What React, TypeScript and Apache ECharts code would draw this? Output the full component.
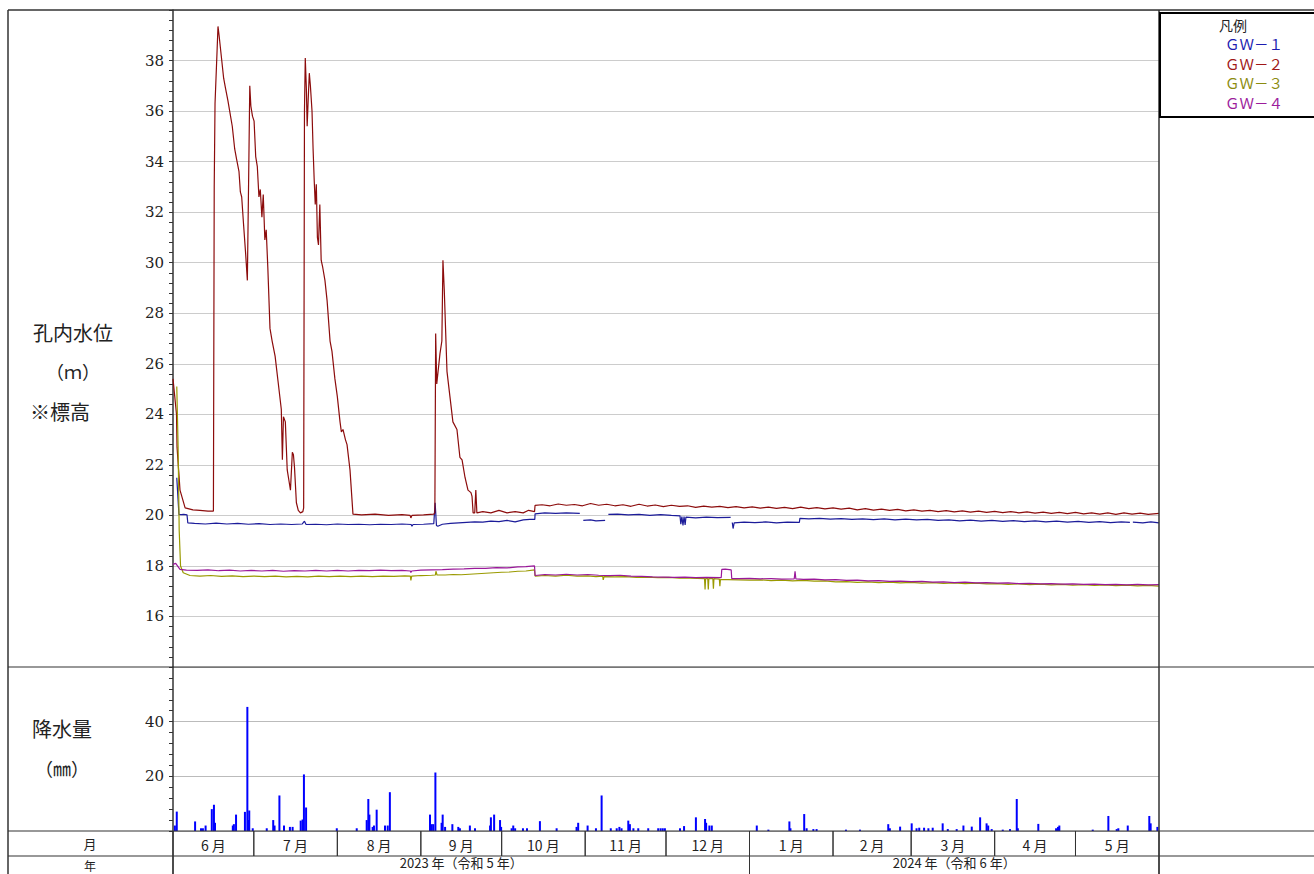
import React, { useEffect, useRef } from 'react';
import * as echarts from 'echarts';

// x values are days counted from 2023-06-01 (0) to 2024-06-01 (366)
const TOTAL_DAYS = 366;
const monthLabels = ['6 月', '7 月', '8 月', '9 月', '10 月', '11 月', '12 月', '1 月', '2 月', '3 月', '4 月', '5 月'];
const monthStartDays = [0, 30, 61, 92, 122, 153, 183, 214, 245, 274, 305, 335, 366];
const yearLabels = ['2023 年（令和 5 年）', '2024 年（令和 6 年）'];
const yearStartDays = [0, 214, 366];

const seriesNames = ['ＧＷ－１', 'ＧＷ－２', 'ＧＷ－３', 'ＧＷ－４'];
const lineColors = ['#1c1c9a', '#8c0c0c', '#9a9a00', '#9a189a'];
const textColors = ['#1c1cb0', '#a01818', '#8c8c10', '#9c1c9c'];

type P = [number, number | string];

const gw1: P[] = [
  [1.4, 21.49], [2.2, 20.04], [3, 20.03], [4, 20.04], [5.2, 20.02], [5.5, 19.7], [8, 19.68], [12, 19.66], [16, 19.69],
  [20, 19.66], [24, 19.68], [28, 19.65], [32, 19.67], [36, 19.64], [40, 19.66], [44, 19.64], [48, 19.66], [48.8, 19.77],
  [49.4, 19.64], [53, 19.65], [57, 19.63], [61, 19.66], [65, 19.64], [69, 19.65], [73, 19.63], [77, 19.65], [81, 19.64],
  [85, 19.66], [88.4, 19.64], [88.7, 19.57], [89.1, 19.64], [93, 19.65], [96.8, 19.67], [97.3, 20.5], [97.8, 19.6],
  [98.3, 19.57], [100, 19.65], [103, 19.68], [106, 19.7], [109, 19.72], [112, 19.74], [115, 19.73], [118, 19.77],
  [121, 19.75], [124, 19.8], [127, 19.74], [130, 19.82], [132.5, 19.84], [134.3, 19.84], [134.4, 20.06], [138, 20.1],
  [142, 20.08], [146, 20.1], [151, 20.08], [151.6, '-'], [152.3, 19.8], [155, 19.82], [157, 19.78], [160.4, 19.8],
  [161, '-'], [161.6, 20.04], [165, 20.05], [169, 20.02], [173, 20.04], [177, 20.0], [181, 20.03], [185, 20.0],
  [188.2, 19.98], [188.5, 19.65], [188.9, 19.95], [189.3, 19.6], [189.7, 19.95], [190.1, 19.62], [190.4, 19.93],
  [194, 19.9], [198, 19.93], [202, 19.91], [207, 19.92], [207.3, '-'], [207.6, 19.72], [207.9, 19.48], [208.3, 19.7],
  [212, 19.73], [216, 19.71], [220, 19.74], [224, 19.7], [228, 19.73], [232.5, 19.72], [232.7, 19.88], [236, 19.86],
  [240, 19.88], [244, 19.85], [248, 19.87], [252, 19.84], [256, 19.86], [260, 19.83], [264, 19.86], [268, 19.82],
  [272, 19.85], [276, 19.82], [280, 19.84], [284, 19.8], [288, 19.82], [292, 19.78], [296, 19.81], [300, 19.77],
  [304, 19.8], [308, 19.76], [312, 19.79], [316, 19.75], [320, 19.78], [324, 19.74], [328, 19.77], [332, 19.73],
  [336, 19.76], [340, 19.72], [344, 19.75], [348, 19.71], [352, 19.74], [355.2, 19.72], [355.7, '-'], [356.3, 19.73],
  [360, 19.7], [363, 19.74], [366, 19.7],
];

const gw2: P[] = [
  [0, 25.4], [1.3, 24.0], [1.5, 22.7], [2.6, 21.0], [4.5, 20.3], [7.4, 20.22], [10, 20.2], [13, 20.17], [15.0, 20.17],
  [15.3, 33.0], [15.6, 36.3], [16.4, 38.5], [16.7, 39.35], [17.1, 39.0], [18.0, 38.1], [18.8, 37.3], [19.5, 36.9],
  [20.4, 36.4], [21.2, 35.9], [22.0, 35.4], [22.9, 34.5], [23.6, 34.1], [24.5, 33.6], [25.0, 32.8], [25.5, 32.6],
  [26.2, 31.5], [27.0, 30.3], [27.6, 29.3], [28.1, 33.5], [28.5, 37.0], [28.9, 36.2], [29.5, 35.8], [30.1, 35.6],
  [30.7, 34.2], [31.3, 33.8], [31.9, 32.6], [32.4, 32.9], [33.0, 31.8], [33.5, 32.7], [34.1, 30.9], [34.6, 31.3],
  [35.2, 29.8], [36.0, 27.4], [36.8, 26.9], [37.9, 26.3], [39.0, 25.3], [40.2, 24.2], [40.6, 22.2], [41.0, 23.9],
  [41.7, 23.7], [42.4, 21.8], [43.0, 21.4], [43.6, 21.0], [44.3, 22.5], [44.7, 22.4], [45.1, 21.9], [45.8, 20.5],
  [46.5, 20.2], [47.3, 20.1], [48.2, 20.15], [48.5, 20.3], [48.8, 36.0], [49.1, 38.1], [49.5, 36.9], [49.8, 35.4],
  [50.2, 36.5], [50.6, 37.5], [51.0, 37.0], [51.6, 36.0], [52.0, 34.5], [52.4, 33.3], [52.8, 32.3], [53.2, 33.1],
  [53.6, 31.0], [54.0, 30.7], [54.5, 32.3], [55.0, 30.1], [55.6, 29.8], [56.4, 29.3], [57.2, 28.5], [58.3, 26.9],
  [59.0, 26.5], [60.1, 25.4], [61.0, 24.7], [62.0, 23.7], [62.5, 23.3], [63.1, 23.4], [64.0, 23.0], [64.6, 22.8],
  [65.7, 21.8], [66.8, 20.05], [70, 20.02], [75, 20.05], [80, 20.0], [85, 20.03], [88.0, 20.0], [88.3, 19.9],
  [88.7, 20.0], [93, 20.02], [96.8, 20.05], [97.2, 20.1], [97.5, 27.2], [97.9, 25.2], [99.1, 26.4], [99.8, 26.9],
  [100.2, 30.1], [100.7, 28.9], [101.7, 25.7], [102.8, 24.7], [103.9, 23.7], [105.4, 23.4], [106.5, 22.3],
  [107.3, 22.2], [108.4, 21.5], [109.5, 21.0], [110.6, 20.9], [111.0, 20.75], [111.4, 20.1], [112.0, 20.1],
  [112.4, 21.0], [112.8, 20.1], [115, 20.15], [118, 20.1], [121, 20.2], [124, 20.1], [127, 20.15], [130, 20.1],
  [132, 20.2], [134.2, 20.15], [134.4, 20.4], [137, 20.42], [140, 20.38], [143, 20.45], [146, 20.4], [149, 20.43],
  [152, 20.38], [155, 20.47], [158, 20.4], [161, 20.44], [164, 20.38], [167, 20.42], [170, 20.36], [173, 20.44],
  [176, 20.37], [179, 20.41], [182, 20.35], [185, 20.4], [188, 20.36], [191, 20.38], [194, 20.32], [197, 20.37],
  [200, 20.33], [203, 20.36], [206, 20.31], [209, 20.35], [212, 20.3], [215, 20.34], [218, 20.29], [221, 20.33],
  [224, 20.28], [227, 20.32], [230, 20.27], [233, 20.33], [236, 20.27], [239, 20.31], [242, 20.26], [245, 20.3],
  [248, 20.25], [251, 20.29], [254, 20.22], [257, 20.27], [260, 20.21], [263, 20.25], [266, 20.2], [269, 20.24],
  [272, 20.18], [275, 20.22], [278, 20.17], [281, 20.2], [284, 20.15], [287, 20.19], [290, 20.14], [293, 20.18],
  [296, 20.13], [299, 20.17], [302, 20.12], [305, 20.16], [308, 20.11], [311, 20.15], [314, 20.1], [317, 20.14],
  [320, 20.09], [323, 20.13], [326, 20.08], [329, 20.12], [332, 20.07], [335, 20.12], [338, 20.06], [341, 20.1],
  [344, 20.05], [347, 20.1], [350, 20.04], [353, 20.1], [356, 20.05], [359, 20.09], [362, 20.04], [366, 20.08],
];

const gw3: P[] = [
  [1.4, 25.1], [1.9, 22.7], [2.3, 19.4], [2.8, 18.0], [3.8, 17.73], [6.3, 17.62], [10, 17.6], [14, 17.62], [18, 17.59],
  [22, 17.61], [26, 17.58], [30, 17.6], [34, 17.58], [38, 17.6], [42, 17.57], [46, 17.59], [50, 17.57], [54, 17.6],
  [58, 17.58], [62, 17.6], [66, 17.58], [70, 17.6], [74, 17.58], [78, 17.6], [82, 17.59], [86, 17.61], [88.1, 17.6],
  [88.3, 17.43], [88.6, 17.6], [92, 17.62], [96, 17.63], [97.4, 17.64], [97.6, 17.79], [98, 17.64], [101, 17.64],
  [104, 17.66], [107, 17.65], [110, 17.67], [113, 17.69], [116, 17.71], [119, 17.73], [122, 17.75], [125, 17.76],
  [128, 17.79], [131, 17.8], [134.2, 17.84], [134.4, 17.6], [138, 17.62], [142, 17.6], [146, 17.63], [150, 17.6],
  [154, 17.61], [157, 17.58], [159.5, 17.6], [159.7, 17.45], [160.0, 17.58], [164, 17.57], [168, 17.58], [172, 17.55],
  [176, 17.56], [180, 17.54], [184, 17.55], [188, 17.52], [192, 17.52], [197.3, 17.5], [197.5, 17.07], [197.7, 17.5],
  [198.5, 17.5], [198.7, 17.07], [198.9, 17.5], [200.4, 17.5], [200.6, 17.1], [200.8, 17.5], [202.8, 17.48],
  [203.0, 17.2], [203.2, 17.46], [206, 17.46], [210, 17.45], [214, 17.44], [218, 17.45], [222, 17.42], [226, 17.44],
  [230, 17.41], [234, 17.43], [238, 17.4], [242, 17.41], [246, 17.37], [250, 17.38], [254, 17.35], [258, 17.37],
  [262, 17.34], [266, 17.36], [270, 17.33], [274, 17.35], [278, 17.32], [282, 17.34], [286, 17.31], [290, 17.33],
  [294, 17.3], [298, 17.32], [302, 17.29], [306, 17.3], [310, 17.27], [314, 17.29], [318, 17.26], [322, 17.28],
  [326, 17.25], [330, 17.27], [334, 17.24], [338, 17.26], [342, 17.23], [346, 17.25], [350, 17.22], [354, 17.24],
  [358, 17.21], [362, 17.23], [366, 17.2],
];

const gw4: P[] = [
  [0, 18.06], [1, 18.1], [2.6, 17.86], [5, 17.83], [9, 17.82], [13, 17.84], [17, 17.81], [21, 17.83], [25, 17.8],
  [29, 17.82], [33, 17.8], [37, 17.82], [41, 17.79], [45, 17.81], [49, 17.8], [53, 17.82], [57, 17.8], [61, 17.82],
  [65, 17.8], [69, 17.82], [73, 17.81], [77, 17.83], [81, 17.81], [85, 17.82], [88.1, 17.8], [88.3, 17.74],
  [88.6, 17.8], [92, 17.83], [96, 17.84], [100, 17.85], [104, 17.87], [108, 17.88], [112, 17.9], [116, 17.9],
  [120, 17.93], [124, 17.92], [128, 17.96], [131, 17.97], [134.2, 18.0], [134.4, 17.62], [138, 17.66], [142, 17.64],
  [146, 17.67], [150, 17.64], [154, 17.66], [158, 17.63], [162, 17.62], [166, 17.63], [170, 17.6], [174, 17.59],
  [178, 17.57], [182, 17.56], [186, 17.55], [190, 17.56], [194, 17.54], [198, 17.55], [203.5, 17.54], [203.7, 17.86],
  [205, 17.87], [207.2, 17.84], [207.4, 17.5], [210, 17.5], [214, 17.51], [218, 17.49], [222, 17.5], [226, 17.48],
  [230.6, 17.49], [230.9, 17.79], [231.2, 17.49], [234, 17.47], [238, 17.48], [242, 17.45], [246, 17.46],
  [250, 17.43], [254, 17.44], [258, 17.41], [262, 17.42], [266, 17.39], [270, 17.4], [274, 17.38], [278, 17.39],
  [282, 17.36], [286, 17.37], [290, 17.34], [294, 17.36], [298, 17.33], [302, 17.34], [306, 17.32], [310, 17.33],
  [314, 17.3], [318, 17.31], [322, 17.29], [326, 17.3], [330, 17.28], [334, 17.29], [338, 17.27], [342, 17.28],
  [346, 17.26], [350, 17.27], [354, 17.25], [358, 17.27], [362, 17.25], [366, 17.26],
];

// daily precipitation [day, mm]
const rain: [number, number][] = [
  [0.7, 2], [1.4, 7.1], [8.2, 3.5], [10.4, 1], [11.1, 1], [12.1, 2], [14.4, 8], [15.2, 9.6], [15.6, 3], [22.2, 2],
  [22.6, 2.5], [23.4, 6], [26.7, 7], [27.6, 45.4], [28.0, 4], [28.3, 7.5], [29.6, 1], [34.8, 1], [37.2, 4], [37.7, 2],
  [39.5, 13], [41.2, 2], [43.4, 1.5], [44.4, 1.5], [47.4, 3.8], [48.1, 4.2], [48.6, 20.7], [49.4, 8.6], [60.8, 1],
  [68.2, 1], [71.9, 4], [72.5, 11.7], [72.9, 6], [74.1, 1.5], [74.6, 2], [75.6, 7.8], [78.7, 2], [79.7, 2],
  [80.5, 14.2], [95.4, 6], [96.0, 2.5], [96.6, 2.5], [97.4, 21.4], [99.7, 3], [100.1, 6], [101.0, 1.5], [103.7, 2.5],
  [105.9, 1.5], [106.5, 1], [110.2, 2], [112.1, 1], [117.7, 2], [118.0, 5], [119.2, 6], [121.4, 4], [121.8, 1.5],
  [125.7, 1], [126.3, 2], [127.0, 1], [129.9, 1], [131.4, 1], [136.2, 3.6], [142.4, 1], [149.8, 1.5], [150.4, 3],
  [153.9, 2], [157.0, 1], [159.1, 13], [162.5, 1], [164.7, 1], [165.7, 1.5], [166.5, 1], [169.0, 3.8], [169.6, 2.5],
  [170.9, 1], [172.7, 1], [176.4, 1], [180.1, 1], [181.0, 1], [181.8, 1], [182.6, 1], [188.2, 1], [189.7, 1.8],
  [194.1, 5], [197.5, 4.4], [197.9, 3], [199.1, 2], [200.0, 2], [216.7, 2], [221.0, 0.5], [228.8, 3.5], [229.2, 1],
  [234.3, 6.2], [235.2, 1], [237.7, 0.7], [238.9, 0.7], [249.8, 0.5], [255.0, 0.5], [265.5, 2.5], [266.1, 1],
  [269.9, 1.6], [274.2, 2.8], [276.0, 1], [277.0, 1.2], [278.8, 1.2], [280.4, 1], [282.0, 1.2], [285.7, 2.8],
  [287.6, 0.7], [290.9, 0.7], [293.4, 2], [296.5, 1.6], [299.6, 5], [302.0, 2.8], [302.6, 2], [303.9, 0.7],
  [308.0, 0.5], [310.7, 0.7], [313.2, 11.7], [313.6, 1], [321.2, 2.6], [327.8, 1], [328.5, 1.5], [329.0, 2],
  [341.4, 0.5], [347.2, 5.5], [350.3, 0.7], [350.9, 1], [354.4, 2], [362.4, 5.5], [362.9, 2.8], [365.4, 1.5],
];

const levelSeries = [gw1, gw2, gw3, gw4];

const JP = 'Noto Sans CJK JP';
const SERIF = 'DejaVu Serif';
const FRAME = '#333';

const L = 173;
const R = 1159;
const PLOT_W = R - L;

function line(x1: number, y1: number, x2: number, y2: number, w = 1, color = FRAME) {
  return { type: 'line', z: 50, shape: { x1, y1, x2, y2 }, style: { stroke: color, lineWidth: w }, silent: true };
}
function text(t: string, x: number, y: number, size: number, align = 'center', color = '#222', family = JP) {
  return {
    type: 'text', z: 60, silent: true,
    style: {
      text: t, x, y, fill: color, fontSize: size, fontFamily: family,
      textAlign: align, textVerticalAlign: 'middle', align, verticalAlign: 'middle',
    },
  };
}

export default function App() {
  const ref = useRef<HTMLDivElement>(null);
  useEffect(() => {
    if (!ref.current) return;
    const chart = echarts.init(ref.current, undefined, { renderer: 'svg' });

    const monthCells = monthLabels.map((_, i) => [monthStartDays[i], monthStartDays[i + 1]]);
    const yearCells = yearLabels.map((_, i) => [yearStartDays[i], yearStartDays[i + 1]]);

    const cellRenderer = (labels: string[], fontSize: number, dy: number) => (params: any, api: any) => {
      const a = api.coord([api.value(0), 1]);
      const b = api.coord([api.value(1), 0]);
      return {
        type: 'group',
        children: [
          { type: 'line', shape: { x1: a[0], y1: a[1], x2: a[0], y2: b[1] }, style: { stroke: FRAME, lineWidth: 1 } },
          { type: 'line', shape: { x1: b[0], y1: a[1], x2: b[0], y2: b[1] }, style: { stroke: FRAME, lineWidth: 1 } },
          {
            type: 'text',
            style: {
              text: labels[params.dataIndex], x: (a[0] + b[0]) / 2, y: (a[1] + b[1]) / 2 + dy,
              fill: '#222', fontSize, fontFamily: JP, align: 'center', verticalAlign: 'middle',
              textAlign: 'center', textVerticalAlign: 'middle',
            },
          },
        ],
      };
    };

    const hiddenX = (gridIndex: number) => ({
      gridIndex, type: 'value', min: 0, max: TOTAL_DAYS, show: false,
      splitLine: { show: false }, axisTick: { show: false }, axisLabel: { show: false }, axisLine: { show: false },
    });

    const legendGraphics: any[] = [
      { type: 'rect', z: 55, shape: { x: 1160, y: 13, width: 170, height: 104 }, style: { fill: '#fff', stroke: '#000', lineWidth: 2 } },
      text('凡例', 1233, 25, 14),
    ];
    seriesNames.forEach((n, i) => {
      const y = 43.5 + i * 19.6;
      legendGraphics.push(line(1165, y, 1215, y, 1.2, lineColors[i]));
      legendGraphics.push({ ...text(n, 1225, y, 14.5, 'left', textColors[i]), z: 60 });
    });

    const yLabel = {
      showMinLabel: false, showMaxLabel: false, color: '#222', margin: 9,
      fontFamily: SERIF, fontSize: 15,
      formatter: '{s|{value}}',
      rich: { s: { fontFamily: SERIF, fontSize: 15, color: '#222' } },
    };

    const option: any = {
      animation: false,
      backgroundColor: '#fff',
      grid: [
        { left: L, top: 10, width: PLOT_W, height: 657 },
        { left: L, top: 667, width: PLOT_W, height: 164 },
        { left: L, top: 831, width: PLOT_W, height: 25 },
        { left: L, top: 856, width: PLOT_W, height: 25 },
      ],
      xAxis: [hiddenX(0), hiddenX(1), hiddenX(2), hiddenX(3)],
      yAxis: [
        {
          gridIndex: 0, type: 'value', min: 14, max: 40, interval: 2,
          axisLine: { show: true, lineStyle: { color: FRAME, width: 1.5 } },
          axisTick: { show: true, length: 4, lineStyle: { color: FRAME } },
          minorTick: { show: true, splitNumber: 5, length: 4, lineStyle: { color: FRAME } },
          axisLabel: yLabel,
          splitLine: { show: true, lineStyle: { color: '#cccccc', width: 1 } },
        },
        {
          gridIndex: 1, type: 'value', min: 0, max: 60, interval: 20,
          axisLine: { show: true, lineStyle: { color: FRAME, width: 1.5 } },
          axisTick: { show: true, length: 4, lineStyle: { color: FRAME } },
          minorTick: { show: true, splitNumber: 5, length: 4, lineStyle: { color: FRAME } },
          axisLabel: yLabel,
          splitLine: { show: true, lineStyle: { color: '#bbbbbb', width: 1 } },
        },
        { gridIndex: 2, type: 'value', min: 0, max: 1, show: false, splitLine: { show: false } },
        { gridIndex: 3, type: 'value', min: 0, max: 1, show: false, splitLine: { show: false } },
      ],
      series: [
        ...levelSeries.map((d, i) => ({
          name: seriesNames[i], type: 'line', xAxisIndex: 0, yAxisIndex: 0, data: d,
          showSymbol: false, symbol: 'none', connectNulls: false,
          lineStyle: { color: lineColors[i], width: 1.2 }, itemStyle: { color: lineColors[i] },
        })),
        {
          name: '降水量', type: 'bar', xAxisIndex: 1, yAxisIndex: 1, data: rain, barWidth: 2,
          itemStyle: { color: '#0000ff' },
        },
        {
          type: 'custom', xAxisIndex: 2, yAxisIndex: 2, data: monthCells,
          renderItem: cellRenderer(monthLabels, 14, 1), silent: true,
        },
        {
          type: 'custom', xAxisIndex: 3, yAxisIndex: 3, data: yearCells,
          renderItem: cellRenderer(yearLabels, 13, -3), silent: true,
        },
      ],
      graphic: [
        line(8, 10, 1314, 10, 1.5),
        line(8, 10, 8, 874, 1.5),
        line(8, 667, 1314, 667, 1.2),
        line(8, 831, 1314, 831, 1.2),
        line(8, 856, 1314, 856, 1.2),
        line(R, 10, R, 874, 1.5),
        line(L, 831, L, 874, 1.5),
        text('孔内水位', 73, 332, 20),
        text('（ｍ）', 73, 371, 18),
        text('※標高', 30, 411, 20, 'left'),
        text('降水量', 62, 728, 20),
        text('（㎜）', 62, 768, 18),
        text('月', 90, 843, 13),
        text('年', 90, 865, 12),
        ...legendGraphics,
      ],
    };
    chart.setOption(option);
    return () => chart.dispose();
  }, []);

  return (
    <div
      ref={ref}
      style={{ position: 'fixed', left: 0, top: 0, width: 1314, height: 874, background: '#fff' }}
    />
  );
}
